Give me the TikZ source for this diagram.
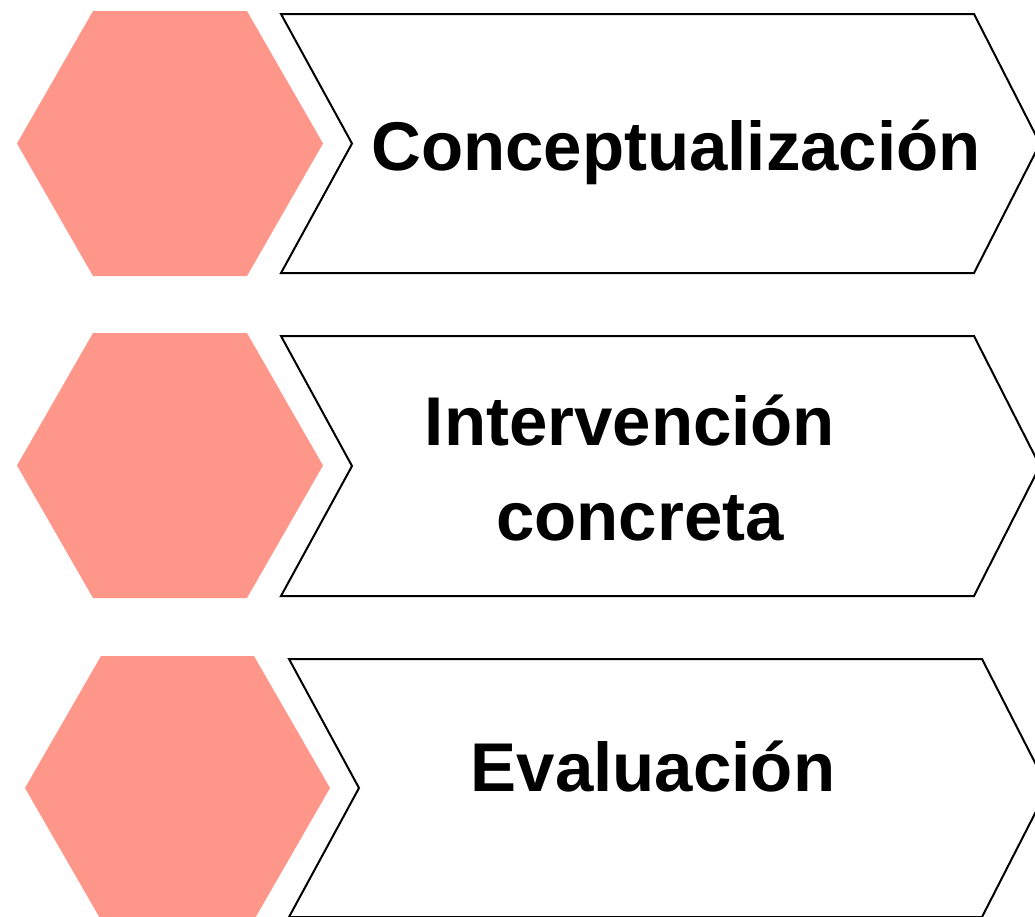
\documentclass[tikz,border=0pt]{standalone}
\usepackage{fontspec}
\setmainfont{Liberation Sans}
\definecolor{hexfill}{RGB}{255,150,138}
\begin{document}
\begin{tikzpicture}[x=1pt,y=-1pt,
  hexa/.style={fill=hexfill,draw=none},
  chev/.style={draw=black,line width=2pt,fill=white,line join=miter},
  lbl/.style={font=\fontsize{69}{95}\selectfont\bfseries,anchor=base,inner sep=0pt}]
\useasboundingbox (0,0) rectangle (1035,916);
\clip (0,0) rectangle (1035,916);
% row 1
\fill[hexa] (17,143.5) -- (93,11) -- (247,11) -- (323,143.5) -- (247,276) -- (93,276) -- cycle;
\draw[chev] (281,14) -- (974,14) -- (1040,143.5) -- (974,273) -- (281,273) -- (352,143.5) -- cycle;
\node[lbl] (t1) at (676,170) {Conceptualización};
% row 2
\fill[hexa] (17,465.5) -- (93,333) -- (247,333) -- (323,465.5) -- (247,598) -- (93,598) -- cycle;
\draw[chev] (281,336) -- (974,336) -- (1040,466) -- (974,596) -- (281,596) -- (352,466) -- cycle;
\node[lbl] (t2a) at (630,445) {Intervención};
\node[lbl] (t2b) at (640,540) {concreta};
% row 3
\fill[hexa] (25,788) -- (101,656) -- (254,656) -- (330,788) -- (254,920) -- (101,920) -- cycle;
\draw[chev] (289,659) -- (982,659) -- (1048,788) -- (982,917) -- (289,917) -- (359,788) -- cycle;
\node[lbl] (t3) at (653,791) {Evaluación};
\end{tikzpicture}
\end{document}
